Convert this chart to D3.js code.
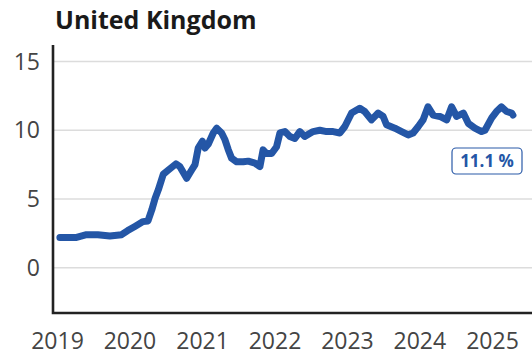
<!DOCTYPE html>
<html>
<head>
<meta charset="utf-8">
<script src="https://cdn.jsdelivr.net/npm/d3@7/dist/d3.min.js"></script>
<style>
  html, body { margin: 0; padding: 0; background: #fff; }
  svg { display: block; font-family: "Open Sans", "Noto Sans", sans-serif; }
</style>
</head>
<body>
<svg id="chart" width="532" height="352"></svg>
<script>
const title = "United Kingdom";
const dates = ["2019-01-13","2019-04-07","2019-05-27","2019-07-23","2019-09-22","2019-11-20","2019-12-21",
  "2020-01-26","2020-03-07","2020-04-01","2020-04-20","2020-05-07","2020-05-23","2020-06-17","2020-07-12",
  "2020-08-20","2020-09-09","2020-10-13","2020-11-07","2020-11-24","2020-12-10","2020-12-31",
  "2021-01-13","2021-01-30","2021-02-24","2021-03-13","2021-04-07","2021-04-24","2021-05-10","2021-05-27",
  "2021-06-22","2021-07-25","2021-08-19","2021-09-22","2021-10-17","2021-11-02","2021-11-20","2021-12-15",
  "2022-01-09","2022-01-26","2022-02-20","2022-03-17","2022-04-11","2022-05-06","2022-05-31","2022-07-12",
  "2022-08-15","2022-09-18","2022-10-21","2022-11-24","2022-12-19",
  "2023-01-22","2023-03-04","2023-03-29","2023-05-02","2023-06-05","2023-06-30","2023-07-17","2023-08-28",
  "2023-10-01","2023-11-03","2023-11-28","2023-12-24",
  "2024-01-17","2024-02-11","2024-03-08","2024-04-11","2024-05-15","2024-06-09","2024-07-04","2024-08-07",
  "2024-09-01","2024-10-04","2024-11-07","2024-11-24","2024-12-28",
  "2025-01-21","2025-02-15","2025-03-13","2025-04-07","2025-04-14"];
const values = [2.2,2.2,2.4,2.4,2.3,2.4,2.7,
  3.0,3.35,3.4,4.2,5.05,5.66,6.8,7.1,
  7.55,7.35,6.5,7.1,7.5,8.7,9.2,
  8.7,9.0,9.8,10.15,9.8,9.3,8.6,7.97,
  7.7,7.7,7.75,7.6,7.35,8.57,8.3,8.3,
  8.8,9.8,9.9,9.55,9.4,9.9,9.55,9.9,
  10.0,9.9,9.9,9.8,10.27,
  11.25,11.6,11.36,10.75,11.25,11.0,10.4,10.15,
  9.9,9.66,9.8,10.27,
  10.75,11.7,11.1,11.0,10.75,11.7,11.0,11.25,
  10.5,10.15,9.9,10.0,10.9,
  11.36,11.7,11.36,11.25,11.1];
const yTicks = [0, 5, 10, 15];
const xTickYears = [2019, 2020, 2021, 2022, 2023, 2024, 2025];
const latestLabel = "11.1 %";

const parse = d3.timeParse("%Y-%m-%d");
const data = dates.map((d, i) => ({ date: parse(d), value: values[i] }));

const svg = d3.select("#chart");
const plotL = 53, plotR = 532, plotT = 45, plotB = 313;

const x = d3.scaleTime()
  .domain([new Date(2019, 0, 1), new Date(2025, 0, 1)])
  .range([57.5, 492.5]);
const y = d3.scaleLinear().domain([-3.3, 16.2]).range([plotB, plotT]);

// gridlines
svg.append("g").selectAll("line").data(yTicks).join("line")
  .attr("x1", plotL).attr("x2", plotR)
  .attr("y1", d => y(d)).attr("y2", d => y(d))
  .attr("stroke", "#dcdcdc").attr("stroke-width", 1.5);

// y labels
svg.append("g").selectAll("text").data(yTicks).join("text")
  .attr("x", 40).attr("y", d => y(d))
  .attr("dy", "0.36em")
  .attr("text-anchor", "end")
  .attr("font-size", 23).attr("fill", "#444")
  .text(d => d);

// x labels
svg.append("g").selectAll("text").data(xTickYears).join("text")
  .attr("x", d => x(new Date(d, 0, 1))).attr("y", 349)
  .attr("text-anchor", "middle")
  .attr("font-size", 23).attr("fill", "#444")
  .text(d => d);

// axis lines
svg.append("path")
  .attr("d", `M${plotL},${plotT}V${plotB}H${plotR}`)
  .attr("fill", "none").attr("stroke", "#222").attr("stroke-width", 2.6);

// line
const line = d3.line().x(d => x(d.date)).y(d => y(d.value));
svg.append("path").datum(data)
  .attr("d", line)
  .attr("fill", "none").attr("stroke", "#2456a6")
  .attr("stroke-width", 7).attr("stroke-linejoin", "round").attr("stroke-linecap", "round");

// title
svg.append("text").attr("x", 55).attr("y", 29)
  .attr("font-size", 25).attr("font-weight", "bold").attr("fill", "#1a1a1a")
  .text(title);

// latest value label
svg.append("rect").attr("x", 452).attr("y", 148).attr("width", 70).attr("height", 26)
  .attr("rx", 4).attr("fill", "#fff").attr("stroke", "#2a5aa8").attr("stroke-width", 1.2);
svg.append("text").attr("x", 487).attr("y", 167)
  .attr("text-anchor", "middle").attr("font-size", 17).attr("font-weight", "bold")
  .attr("fill", "#2456a6").text(latestLabel);
</script>
</body>
</html>
